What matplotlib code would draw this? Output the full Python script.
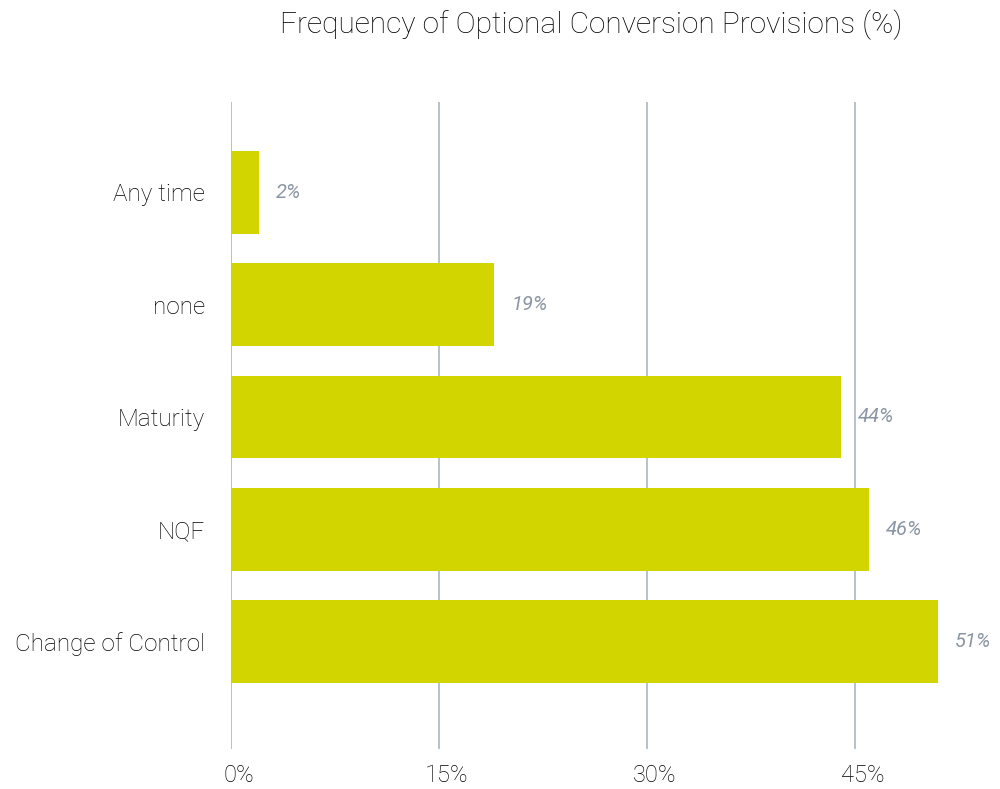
import matplotlib.pyplot as plt
from matplotlib.transforms import ScaledTranslation

categories = ["Change of Control", "NQF", "Maturity", "none", "Any time"]
values = [51, 46, 44, 19, 2]
xticks = [0, 15, 30, 45]
xtick_labels = ["0%", "15%", "30%", "45%"]

plt.rcParams['font.family'] = ['Roboto', 'DejaVu Sans']
plt.rcParams['font.weight'] = 'light'

fig = plt.figure(figsize=(10, 7.89), dpi=100)
ax = fig.add_axes([0.231, 0.0507, 0.735, 0.82])

ypos = list(range(len(categories)))
ax.barh(ypos, values, height=0.735, color="#d2d500", zorder=2)

# value labels to the right of each bar
for y, v in zip(ypos, values):
    ax.text(v + 1.2, y, f"{v}%", va="center", ha="left", fontsize=14.5,
            style="italic", fontweight="normal", color="#8a96a3", clip_on=False)

ax.set_xlim(0, 53)
ax.set_ylim(-0.957, 4.805)
ax.set_xticks(xticks)
ax.set_xticklabels(xtick_labels, fontsize=17, color="#000000")
ax.set_yticks(ypos)
ax.set_yticklabels(categories, fontsize=17.5, color="#000000")
ax.tick_params(axis="both", length=0)
ax.tick_params(axis="y", pad=18.5)
ax.tick_params(axis="x", pad=11)
shift = ScaledTranslation(8 / 100, 0, fig.dpi_scale_trans)
for lbl in ax.get_xticklabels():
    lbl.set_transform(lbl.get_transform() + shift)

ax.grid(axis="x", color="#b3bcc6", linewidth=1.3, zorder=0)
ax.grid(axis="y", visible=False)
for s in ax.spines.values():
    s.set_visible(False)

fig.text(0.591, 0.968, "Frequency of Optional Conversion Provisions (%)",
         ha="center", va="center", fontsize=21.5, color="#000000")

fig.savefig("out.png", dpi=100)
